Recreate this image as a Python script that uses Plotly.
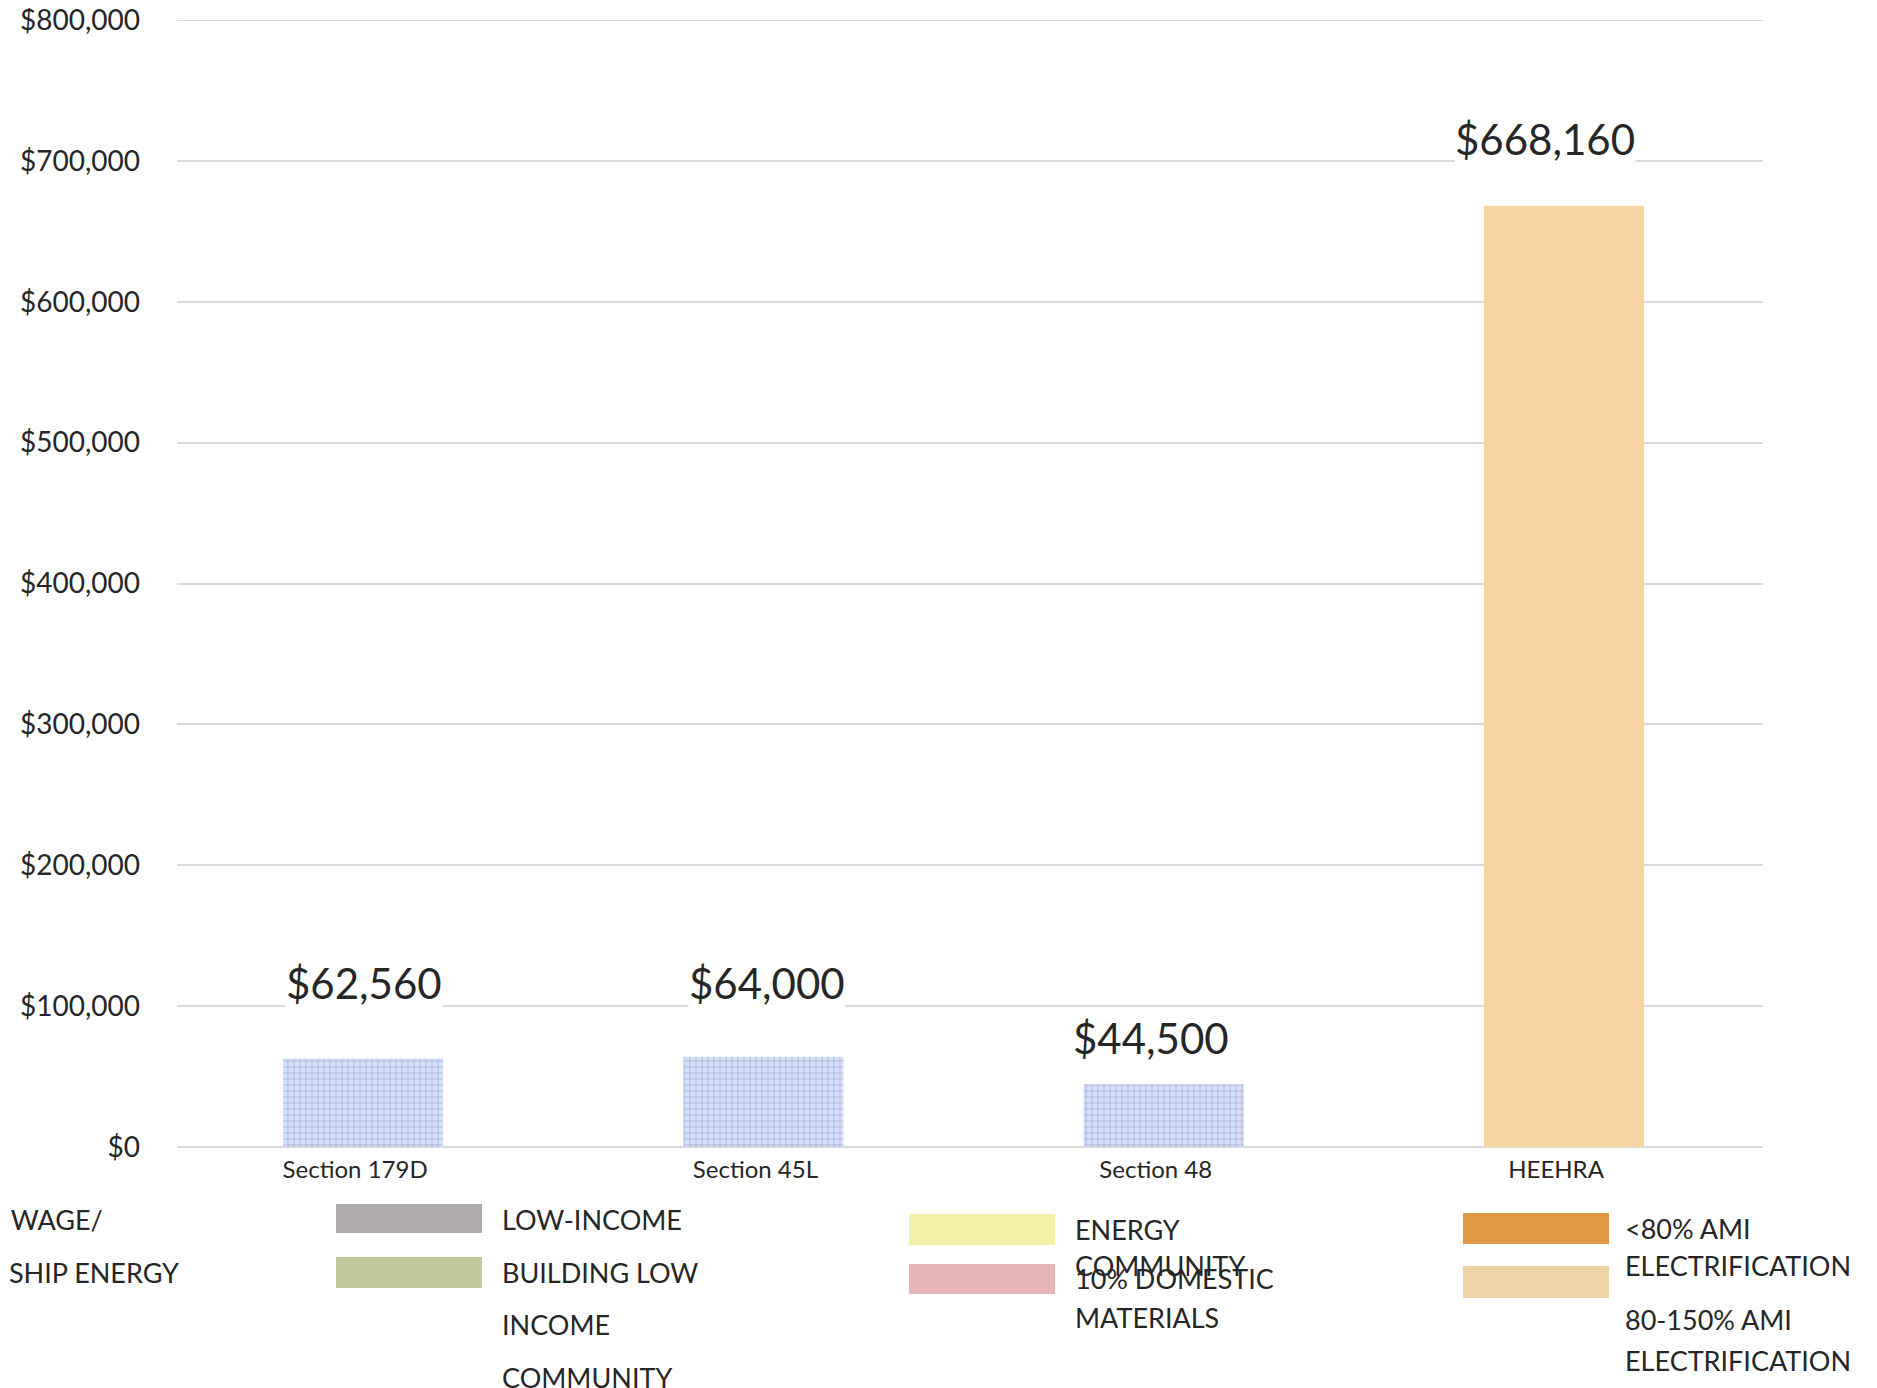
import plotly.graph_objects as go

# ---- data ----
CATEGORIES = ["Section 179D", "Section 45L", "Section 48", "HEEHRA"]
VALUES = [62560, 64000, 44500, 668160]
Y_TICKS = [0, 100000, 200000, 300000, 400000, 500000, 600000, 700000, 800000]
LEGEND_ITEMS = [
    "PREVAILING WAGE/ APPRENTICESHIP",
    "ENERGY",
    "LOW-INCOME",
    "BUILDING LOW INCOME COMMUNITY",
    "ENERGY COMMUNITY",
    "10% DOMESTIC MATERIALS",
    "<80% AMI ELECTRIFICATION",
    "80-150% AMI ELECTRIFICATION",
]

# ---- style ----
PAGE_W, PAGE_H = 1877, 1388
OFF = 8  # default body margin of the html page
W, H = PAGE_W - OFF, PAGE_H - OFF
PL, PR, PT, PB = 177, 1763, 20, 1147  # plot area in page pixels
FONT = "Lato"
TXT = "#262626"
GRID = "#d9d9d9"
BAR_COLORS = ["#d4e1fe", "#d4e1fe", "#d4e1fe", "#f8d5a3"]
BAR_PATTERNS = ["+", "+", "+", ""]
LABEL_YSHIFT = [76, 74, 46, 67]
LABEL_XSHIFT = [1, 4, -13, -19]


def px_x(x):
    return (x - PL) / (PR - PL)


def px_y(y):
    return (PB - y) / (PB - PT)


fig = go.Figure()
fig.add_trace(go.Bar(
    x=CATEGORIES,
    y=VALUES,
    width=0.4,
    marker=dict(
        color=BAR_COLORS,
        line=dict(width=0),
        pattern=dict(shape=BAR_PATTERNS, fillmode="overlay",
                     fgcolor="#bccffa", size=6, solidity=0.15),
    ),
    showlegend=False,
    hoverinfo="skip",
))

# top gridline (plotly omits the grid line at the range edge)
fig.add_shape(type="line", xref="paper", yref="y", x0=0, x1=1,
              y0=Y_TICKS[-1], y1=Y_TICKS[-1], line=dict(color=GRID, width=2), layer="below")

# data labels
for i, (c, v) in enumerate(zip(CATEGORIES, VALUES)):
    fig.add_annotation(
        x=c, y=v, xref="x", yref="y", text=f"${v:,}", showarrow=False,
        yanchor="middle", xanchor="center", yshift=LABEL_YSHIFT[i], xshift=LABEL_XSHIFT[i],
        font=dict(family=FONT, size=42, color=TXT), bgcolor="white", borderpad=0,
    )

# ---- legend (drawn manually, mimicking the reference layout) ----
swatches = [
    (336, 482, 1204, 1233, "#b0acad"),
    (336, 482, 1257, 1288, "#bfc99b"),
    (909, 1055, 1214, 1245, "#f3f0a6"),
    (909, 1055, 1264, 1294, "#e6b6b7"),
    (1463, 1609, 1213, 1244, "#e09a45"),
    (1463, 1609, 1266, 1298, "#efd4a8"),
]
for x0, x1, y0, y1, col in swatches:
    fig.add_shape(type="rect", xref="paper", yref="paper",
                  x0=px_x(x0), x1=px_x(x1), y0=px_y(y1), y1=px_y(y0),
                  fillcolor=col, line=dict(width=0), layer="above")

legend_texts = [
    ("PREVAILING WAGE/", 105, 1219, "right"),
    ("APPRENTICESHIP ENERGY", 181, 1272, "right"),
    ("LOW-INCOME", 500, 1219, "left"),
    ("BUILDING LOW", 500, 1272, "left"),
    ("INCOME", 500, 1325, "left"),
    ("COMMUNITY", 500, 1377, "left"),
    ("ENERGY", 1073, 1229, "left"),
    ("COMMUNITY", 1073, 1265, "left"),
    ("10% DOMESTIC", 1073, 1278, "left"),
    ("MATERIALS", 1073, 1317, "left"),
    ("&lt;80% AMI", 1623, 1228, "left"),
    ("ELECTRIFICATION", 1623, 1265, "left"),
    ("80-150% AMI", 1623, 1319, "left"),
    ("ELECTRIFICATION", 1623, 1360, "left"),
]
for t, x, y, anc in legend_texts:
    fig.add_annotation(
        x=px_x(x), y=px_y(y), xref="paper", yref="paper", text=t, showarrow=False,
        xanchor=anc, yanchor="middle",
        font=dict(family=FONT, size=27, color=TXT),
    )

fig.update_layout(
    width=W, height=H,
    margin=dict(l=PL - OFF, r=PAGE_W - PR, t=PT - OFF, b=PAGE_H - PB, pad=0, autoexpand=False),
    paper_bgcolor="white", plot_bgcolor="white",
    showlegend=False,
    font=dict(family=FONT, color=TXT),
)
fig.update_xaxes(
    type="category", range=[-0.465, 3.497], automargin=False,
    showgrid=False, showline=False, zeroline=False, ticks="",
    tickfont=dict(family=FONT, size=24, color=TXT),
    ticklabelstandoff=6, ticklabelshift=-8,
)
fig.update_yaxes(
    range=[0, 800000], tickvals=Y_TICKS, tickformat="$,.0f", automargin=False,
    showgrid=True, gridcolor=GRID, gridwidth=2,
    zeroline=True, zerolinecolor=GRID, zerolinewidth=2,
    showline=False, ticks="",
    tickfont=dict(family=FONT, size=28, color=TXT),
    ticklabelstandoff=36, ticklabeloverflow="allow",
)

fig.write_html("out.html")
